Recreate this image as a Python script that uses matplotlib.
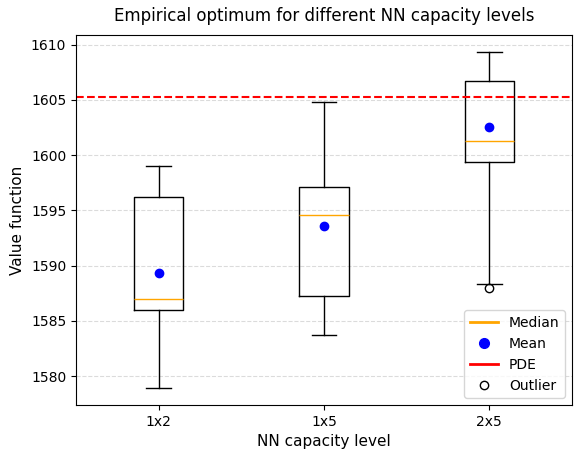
import matplotlib
matplotlib.use('Agg')
import matplotlib.pyplot as plt
from matplotlib.lines import Line2D

levels = ['1x2', '1x5', '2x5']
whislo = [1578.9, 1583.7, 1588.3]
q1 = [1586.0, 1587.2, 1599.4]
med = [1587.0, 1594.6, 1601.3]
q3 = [1596.2, 1597.1, 1606.75]
whishi = [1599.0, 1604.8, 1609.35]
means = [1589.3, 1593.6, 1602.5]
outliers = [[], [], [1587.95]]
pde_value = 1605.25

stats = []
for i in range(len(levels)):
    stats.append(dict(label=levels[i], whislo=whislo[i], q1=q1[i], med=med[i],
                      q3=q3[i], whishi=whishi[i], mean=means[i], fliers=outliers[i]))

fig = plt.figure(figsize=(5.81, 4.59), dpi=100)
ax = fig.add_axes([76/581, 1 - 405/459, (572 - 76)/581, (405 - 35)/459])

ax.bxp(stats, showmeans=True,
       medianprops=dict(color='orange', linewidth=1),
       meanprops=dict(marker='o', markerfacecolor='blue', markeredgecolor='blue', markersize=6),
       flierprops=dict(marker='o', markerfacecolor='none', markeredgecolor='black'))

ax.axhline(pde_value, color='red', linestyle='--', linewidth=1.5)

ax.set_title('Empirical optimum for different NN capacity levels', fontsize=12, pad=10)
ax.set_xlabel('NN capacity level', fontsize=11)
ax.set_ylabel('Value function', fontsize=11)
ax.yaxis.grid(True, linestyle='--', color='lightgray', alpha=0.8)
ax.set_axisbelow(True)

handles = [
    Line2D([0], [0], color='orange', lw=2, label='Median'),
    Line2D([0], [0], marker='o', color='w', markerfacecolor='blue', markeredgecolor='blue', markersize=7, label='Mean'),
    Line2D([0], [0], color='red', lw=2, label='PDE'),
    Line2D([0], [0], marker='o', color='w', markerfacecolor='none', markeredgecolor='black', markersize=6, label='Outlier'),
]
ax.legend(handles=handles, loc='lower right')

fig.savefig('out.png', dpi=100)
